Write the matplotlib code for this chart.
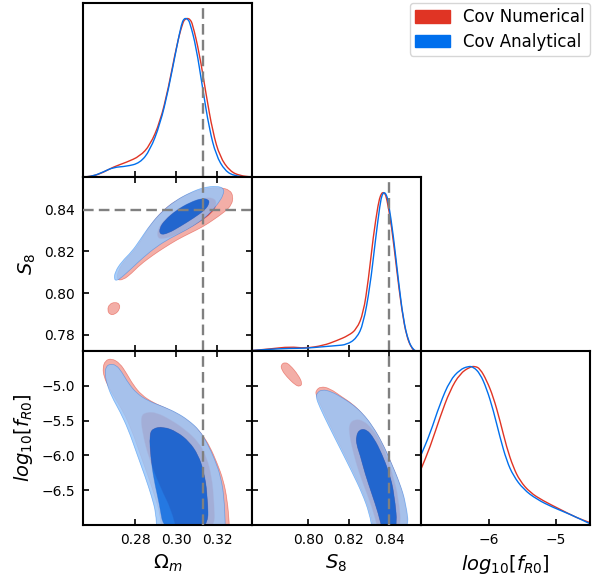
import numpy as np
import matplotlib
matplotlib.use("Agg")
import matplotlib.pyplot as plt
from matplotlib.path import Path
from matplotlib.patches import PathPatch, Patch

# ---------------------------------------------------------------- data
labels = ["Cov Numerical", "Cov Analytical"]
colors = ["#E03424", "#006FED"]

omega_m_fid = 0.313
s8_fid = 0.84

om_ticks = [0.28, 0.30, 0.32]
s8_ticks_y = [0.78, 0.80, 0.82, 0.84]
s8_ticks_x = [0.80, 0.82, 0.84]
fr0_ticks_y = [-5.0, -5.5, -6.0, -6.5]
fr0_ticks_x = [-6, -5]

om_range = (0.2546, 0.3368)
s8_range = (0.7722, 0.8557)
fr0_range = (-7.0, -4.5)

# 1D marginals (normalised to peak = 1)
om_num_x = [0.2550, 0.2596, 0.2645, 0.2693, 0.2758, 0.2823, 0.2872, 0.2921, 0.2961, 0.3002,
            0.3031, 0.3043, 0.3055, 0.3067, 0.3079, 0.3112, 0.3144, 0.3177, 0.3212, 0.3261,
            0.3310, 0.3366]
om_num_p = [0.0, 0.006, 0.029, 0.063, 0.093, 0.131, 0.200, 0.347, 0.558, 0.832,
            0.973, 0.995, 1.0, 0.992, 0.964, 0.779, 0.526, 0.284, 0.126, 0.036,
            0.008, 0.0]
om_ana_x = [0.2550, 0.2596, 0.2645, 0.2693, 0.2758, 0.2823, 0.2872, 0.2921, 0.2961, 0.3002,
            0.3026, 0.3036, 0.3045, 0.3056, 0.3066, 0.3096, 0.3128, 0.3160, 0.3193, 0.3237,
            0.3285, 0.3342]
om_ana_p = [0.0, 0.006, 0.032, 0.061, 0.067, 0.088, 0.168, 0.333, 0.547, 0.821,
            0.968, 0.994, 1.0, 0.993, 0.973, 0.821, 0.558, 0.305, 0.137, 0.038,
            0.006, 0.0]

s8_num_x = [0.7722, 0.7811, 0.7910, 0.7984, 0.8074, 0.8140, 0.8198, 0.8239, 0.8272, 0.8297,
            0.8321, 0.8346, 0.8358, 0.8368, 0.8378, 0.8387, 0.8412, 0.8437, 0.8462, 0.8486,
            0.8511, 0.8527]
s8_num_p = [0.003, 0.013, 0.027, 0.017, 0.034, 0.065, 0.097, 0.137, 0.237, 0.447,
            0.721, 0.931, 0.985, 1.0, 0.993, 0.968, 0.784, 0.511, 0.258, 0.090,
            0.017, 0.0]
s8_ana_x = [0.7722, 0.7811, 0.7910, 0.7984, 0.8074, 0.8140, 0.8190, 0.8239, 0.8272, 0.8305,
            0.8330, 0.8355, 0.8365, 0.8374, 0.8385, 0.8396, 0.8421, 0.8445, 0.8470, 0.8495,
            0.8520, 0.8536]
s8_ana_p = [0.003, 0.011, 0.017, 0.017, 0.027, 0.034, 0.040, 0.080, 0.170, 0.405,
            0.679, 0.931, 0.985, 1.0, 0.988, 0.941, 0.721, 0.447, 0.195, 0.059,
            0.006, 0.0]

fr0_num_x = [-7.0, -6.867, -6.719, -6.571, -6.423, -6.275, -6.201, -6.127, -6.029, -5.930,
             -5.832, -5.733, -5.634, -5.536, -5.388, -5.191, -4.944, -4.698, -4.500]
fr0_num_p = [0.352, 0.489, 0.679, 0.848, 0.954, 0.996, 1.0, 0.985, 0.911, 0.806,
             0.658, 0.489, 0.363, 0.278, 0.205, 0.152, 0.099, 0.046, 0.015]
fr0_ana_x = [-7.0, -6.867, -6.719, -6.571, -6.423, -6.300, -6.226, -6.127, -6.029, -5.930,
             -5.832, -5.733, -5.634, -5.487, -5.289, -5.043, -4.797, -4.500]
fr0_ana_p = [0.441, 0.574, 0.764, 0.911, 0.979, 1.0, 0.996, 0.954, 0.859, 0.722,
             0.553, 0.405, 0.310, 0.226, 0.162, 0.110, 0.068, 0.008]

# 2D contour outlines (68% inner, 95% outer)
# Omega_m - S8
om_s8_num_95 = [
    [(0.2710, 0.8063), (0.2718, 0.8111), (0.2750, 0.8159), (0.2799, 0.8207), (0.2839, 0.8271),
     (0.2880, 0.8335), (0.2937, 0.8399), (0.3002, 0.8447), (0.3083, 0.8487), (0.3147, 0.8503),
     (0.3212, 0.8507), (0.3261, 0.8495), (0.3277, 0.8463), (0.3269, 0.8423), (0.3237, 0.8391),
     (0.3180, 0.8351), (0.3131, 0.8319), (0.3066, 0.8287), (0.3002, 0.8255), (0.2937, 0.8215),
     (0.2888, 0.8183), (0.2823, 0.8135), (0.2783, 0.8095), (0.2742, 0.8063)],
    [(0.2664, 0.7919), (0.2674, 0.7947), (0.2702, 0.7957), (0.2726, 0.7947), (0.2723, 0.7919),
     (0.2702, 0.7898), (0.2677, 0.7895)],
]
om_s8_num_68 = [
    [(0.2909, 0.8263), (0.2908, 0.8303), (0.2937, 0.8347), (0.2994, 0.8395), (0.3066, 0.8435),
     (0.3139, 0.8459), (0.3188, 0.8455), (0.3196, 0.8423), (0.3172, 0.8383), (0.3115, 0.8343),
     (0.3050, 0.8306), (0.2985, 0.8274), (0.2937, 0.8260)],
]
om_s8_ana_95 = [
    [(0.2697, 0.8066), (0.2702, 0.8103), (0.2734, 0.8151), (0.2783, 0.8199), (0.2823, 0.8255),
     (0.2872, 0.8327), (0.2929, 0.8391), (0.2994, 0.8443), (0.3066, 0.8482), (0.3131, 0.8507),
     (0.3196, 0.8514), (0.3232, 0.8503), (0.3229, 0.8471), (0.3204, 0.8431), (0.3164, 0.8383),
     (0.3115, 0.8343), (0.3050, 0.8303), (0.2969, 0.8263), (0.2904, 0.8223), (0.2839, 0.8171),
     (0.2783, 0.8119), (0.2734, 0.8075), (0.2710, 0.8059)],
]
om_s8_ana_68 = [
    [(0.2921, 0.8279), (0.2917, 0.8311), (0.2945, 0.8351), (0.3002, 0.8399), (0.3066, 0.8435),
     (0.3123, 0.8455), (0.3156, 0.8450), (0.3161, 0.8431), (0.3140, 0.8399), (0.3083, 0.8359),
     (0.3018, 0.8319), (0.2961, 0.8287)],
]

# Omega_m - log10 fR0
om_fr0_num_95 = [
    [(0.2642, -4.749), (0.2653, -4.639), (0.2685, -4.605), (0.2726, -4.677), (0.2758, -4.821),
     (0.2791, -4.989), (0.2831, -5.132), (0.2888, -5.243), (0.2953, -5.324), (0.3018, -5.420),
     (0.3075, -5.540), (0.3123, -5.683), (0.3164, -5.875), (0.3199, -6.114), (0.3229, -6.354),
     (0.3248, -6.641), (0.3258, -6.986), (0.3258, -7.10), (0.2929, -7.10), (0.2921, -6.833),
     (0.2896, -6.593), (0.2864, -6.306), (0.2823, -5.971), (0.2783, -5.635), (0.2742, -5.372),
     (0.2702, -5.180), (0.2669, -5.013), (0.2648, -4.869)],
]
om_fr0_num_68 = [
    [(0.2826, -5.434), (0.2856, -5.377), (0.2904, -5.386), (0.2969, -5.482), (0.3042, -5.626),
     (0.3107, -5.803), (0.3147, -6.019), (0.3172, -6.306), (0.3183, -6.641), (0.3188, -7.10),
     (0.3002, -7.10), (0.2977, -6.785), (0.2921, -6.450), (0.2864, -6.018), (0.2836, -5.683)],
]
om_fr0_ana_95 = [
    [(0.2658, -4.725), (0.2677, -4.687), (0.2707, -4.701), (0.2734, -4.797), (0.2767, -4.965),
     (0.2807, -5.108), (0.2864, -5.219), (0.2937, -5.300), (0.3002, -5.386), (0.3058, -5.492),
     (0.3112, -5.635), (0.3151, -5.827), (0.3188, -6.066), (0.3216, -6.306), (0.3232, -6.593),
     (0.3238, -6.986), (0.3238, -7.10), (0.2904, -7.10), (0.2901, -6.833), (0.2880, -6.593),
     (0.2848, -6.306), (0.2807, -5.971), (0.2767, -5.635), (0.2726, -5.372), (0.2685, -5.156),
     (0.2661, -4.965), (0.2653, -4.821)],
]
om_fr0_ana_68 = [
    [(0.2869, -5.707), (0.2885, -5.611), (0.2937, -5.587), (0.3002, -5.659), (0.3063, -5.803),
     (0.3107, -5.995), (0.3134, -6.234), (0.3151, -6.545), (0.3157, -7.10), (0.2940, -7.10),
     (0.2917, -6.689), (0.2891, -6.354), (0.2875, -6.018)],
]

# S8 - log10 fR0
s8_fr0_num_95 = [
    [(0.8037, -5.070), (0.8061, -5.008), (0.8107, -5.037), (0.8165, -5.156), (0.8215, -5.252),
     (0.8264, -5.386), (0.8313, -5.563), (0.8363, -5.803), (0.8407, -6.090), (0.8448, -6.378),
     (0.8478, -6.665), (0.8496, -7.10), (0.8325, -7.10), (0.8308, -6.833), (0.8272, -6.545),
     (0.8223, -6.234), (0.8165, -5.899), (0.8107, -5.563), (0.8061, -5.276), (0.8038, -5.132)],
    [(0.7864, -4.701), (0.7885, -4.658), (0.7910, -4.701), (0.7951, -4.845), (0.7971, -4.965),
     (0.7959, -5.013), (0.7935, -4.989), (0.7893, -4.869), (0.7869, -4.773)],
]
s8_fr0_num_68 = [
    [(0.8201, -5.549), (0.8231, -5.477), (0.8272, -5.501), (0.8313, -5.607), (0.8355, -5.789),
     (0.8391, -6.028), (0.8420, -6.306), (0.8445, -6.593), (0.8462, -7.10), (0.8346, -7.10),
     (0.8325, -6.833), (0.8289, -6.545), (0.8252, -6.258), (0.8223, -5.971), (0.8203, -5.707)],
]
s8_fr0_ana_95 = [
    [(0.8042, -5.108), (0.8066, -5.051), (0.8116, -5.084), (0.8173, -5.180), (0.8223, -5.276),
     (0.8272, -5.405), (0.8318, -5.578), (0.8366, -5.817), (0.8410, -6.105), (0.8453, -6.402),
     (0.8483, -6.689), (0.8500, -7.10), (0.8318, -7.10), (0.8302, -6.833), (0.8266, -6.545),
     (0.8215, -6.234), (0.8157, -5.899), (0.8101, -5.578), (0.8055, -5.300), (0.8038, -5.166)],
]
s8_fr0_ana_68 = [
    [(0.8236, -5.731), (0.8252, -5.626), (0.8289, -5.626), (0.8325, -5.755), (0.8363, -5.971),
     (0.8401, -6.258), (0.8425, -6.545), (0.8443, -7.10), (0.8368, -7.10), (0.8346, -6.833),
     (0.8313, -6.545), (0.8280, -6.258), (0.8256, -5.995), (0.8239, -5.851)],
]

# ---------------------------------------------------------------- style
plt.rcParams["font.family"] = ["DejaVu Sans"]
plt.rcParams["mathtext.fontset"] = "dejavusans"
TICK_FS = 10
LABEL_FS = 14
PALE = 0.6
ALPHAS = [1.0, 0.85]
SPINE_LW = 1.5

W, H = 600, 579
fig = plt.figure(figsize=(W / 100, H / 100), dpi=100)

col_left = [83, 252, 421]
row_top = [3, 177, 351]
pw, ph = 169, 174


def make_ax(r, c):
    ax = fig.add_axes([col_left[c] / W, 1 - (row_top[r] + ph) / H, pw / W, ph / H])
    for s in ax.spines.values():
        s.set_linewidth(SPINE_LW)
    return ax


def pale(c):
    rgb = np.array(matplotlib.colors.to_rgb(c))
    return tuple(rgb * (1 - PALE) + PALE)


def orient(pts, ccw):
    p = np.asarray(pts, float)
    area = 0.5 * np.sum(p[:, 0] * np.roll(p[:, 1], -1) - np.roll(p[:, 0], -1) * p[:, 1])
    if (area > 0) != ccw:
        p = p[::-1]
    return p


def smooth_ring(p):
    """Closed quadratic-Bezier path through the midpoints of the outline."""
    n = len(p)
    mids = 0.5 * (p + np.roll(p, -1, axis=0))
    verts = [mids[-1]]
    codes = [Path.MOVETO]
    for i in range(n):
        verts += [p[i], mids[i]]
        codes += [Path.CURVE3, Path.CURVE3]
    return np.array(verts), codes


def smooth_open(x, y):
    p = np.column_stack([x, y]).astype(float)
    mids = 0.5 * (p[:-1] + p[1:])
    verts = [p[0], mids[0]]
    codes = [Path.MOVETO, Path.LINETO]
    for i in range(1, len(p) - 1):
        verts += [p[i], mids[i]]
        codes += [Path.CURVE3, Path.CURVE3]
    verts.append(p[-1])
    codes.append(Path.LINETO)
    return Path(np.array(verts), codes)


def compound(outers, holes):
    vs, cs = [], []
    for o in outers:
        v, c = smooth_ring(orient(o, True))
        vs.append(v); cs += c
    for h in holes:
        v, c = smooth_ring(orient(h, False))
        vs.append(v); cs += c
    return Path(np.vstack(vs), cs)


def draw_2d(ax, c95, c68, color, alpha):
    ax.add_patch(PathPatch(compound(c95, c68), facecolor=pale(color), edgecolor="none",
                           alpha=alpha, zorder=2))
    ax.add_patch(PathPatch(compound(c68, []), facecolor=color, edgecolor="none",
                           alpha=alpha, zorder=2))
    for poly in c95 + c68:
        ax.add_patch(PathPatch(compound([poly], []), facecolor="none", edgecolor=color,
                               lw=0.5, alpha=0.5 * alpha, zorder=2))


def draw_1d(ax, x, p, color):
    ax.add_patch(PathPatch(smooth_open(x, p), facecolor="none", edgecolor=color, lw=1.0,
                           zorder=2))


def style_1d(ax, xlim, xticks):
    ax.set_xlim(*xlim)
    ax.set_ylim(0, 1.096)
    ax.set_yticks([])
    ax.set_xticks(xticks)
    ax.tick_params(axis="x", direction="in", length=4, width=1.2, top=False,
                   labelsize=TICK_FS, pad=6)


def style_2d(ax, xlim, ylim, xticks, yticks):
    ax.set_xlim(*xlim)
    ax.set_ylim(*ylim)
    ax.set_xticks(xticks)
    ax.set_yticks(yticks)
    ax.tick_params(direction="in", length=4, width=1.2, top=True, right=True,
                   labelsize=TICK_FS, pad=6)


dash = (0, (4.5, 2.2))
fid_kw = dict(color="gray", lw=1.7, ls=dash, zorder=3)

# ---- top-left: Omega_m marginal
ax = make_ax(0, 0)
draw_1d(ax, om_num_x, om_num_p, colors[0])
draw_1d(ax, om_ana_x, om_ana_p, colors[1])
ax.axvline(omega_m_fid, **fid_kw)
style_1d(ax, om_range, om_ticks)
ax.set_xticklabels([])

# ---- middle-left: Omega_m vs S8
ax = make_ax(1, 0)
draw_2d(ax, om_s8_num_95, om_s8_num_68, colors[0], ALPHAS[0])
draw_2d(ax, om_s8_ana_95, om_s8_ana_68, colors[1], ALPHAS[1])
ax.axvline(omega_m_fid, **fid_kw)
ax.axhline(s8_fid, **fid_kw)
style_2d(ax, om_range, s8_range, om_ticks, s8_ticks_y)
ax.set_xticklabels([])
ax.set_yticklabels([f"{t:.2f}" for t in s8_ticks_y])
ax.set_ylabel(r"$S_8$", fontsize=LABEL_FS)

# ---- middle-middle: S8 marginal
ax = make_ax(1, 1)
draw_1d(ax, s8_num_x, s8_num_p, colors[0])
draw_1d(ax, s8_ana_x, s8_ana_p, colors[1])
ax.axvline(s8_fid, **fid_kw)
style_1d(ax, s8_range, s8_ticks_x)
ax.set_xticklabels([])

# ---- bottom-left: Omega_m vs log10 fR0
ax = make_ax(2, 0)
draw_2d(ax, om_fr0_num_95, om_fr0_num_68, colors[0], ALPHAS[0])
draw_2d(ax, om_fr0_ana_95, om_fr0_ana_68, colors[1], ALPHAS[1])
ax.axvline(omega_m_fid, **fid_kw)
style_2d(ax, om_range, fr0_range, om_ticks, fr0_ticks_y)
ax.set_xticklabels([f"{t:.2f}" for t in om_ticks])
ax.set_yticklabels([f"{t:.1f}".replace("-", "\u2212") for t in fr0_ticks_y])
ax.set_xlabel(r"$\Omega_m$", fontsize=LABEL_FS)
ax.set_ylabel(r"$log_{10}[f_{R0}]$", fontsize=LABEL_FS)

# ---- bottom-middle: S8 vs log10 fR0
ax = make_ax(2, 1)
draw_2d(ax, s8_fr0_num_95, s8_fr0_num_68, colors[0], ALPHAS[0])
draw_2d(ax, s8_fr0_ana_95, s8_fr0_ana_68, colors[1], ALPHAS[1])
ax.axvline(s8_fid, **fid_kw)
style_2d(ax, s8_range, fr0_range, s8_ticks_x, fr0_ticks_y)
ax.set_xticklabels([f"{t:.2f}" for t in s8_ticks_x])
ax.set_yticklabels([])
ax.set_xlabel(r"$S_8$", fontsize=LABEL_FS)

# ---- bottom-right: log10 fR0 marginal
ax = make_ax(2, 2)
draw_1d(ax, fr0_num_x, fr0_num_p, colors[0])
draw_1d(ax, fr0_ana_x, fr0_ana_p, colors[1])
style_1d(ax, fr0_range, fr0_ticks_x)
ax.set_xticklabels([f"{t:d}".replace("-", "\u2212") for t in fr0_ticks_x])
ax.set_xlabel(r"$log_{10}[f_{R0}]$", fontsize=LABEL_FS)

# ---- legend
handles = [Patch(facecolor=c, edgecolor=c) for c in colors]
fig.legend(handles, labels, loc="upper right", bbox_to_anchor=(590 / W, 1 - 3 / H),
           borderaxespad=0.0, fontsize=12, handlelength=2.1, handleheight=0.8,
           labelspacing=0.4, borderpad=0.3, frameon=True)

fig.savefig("out.png", dpi=100)
